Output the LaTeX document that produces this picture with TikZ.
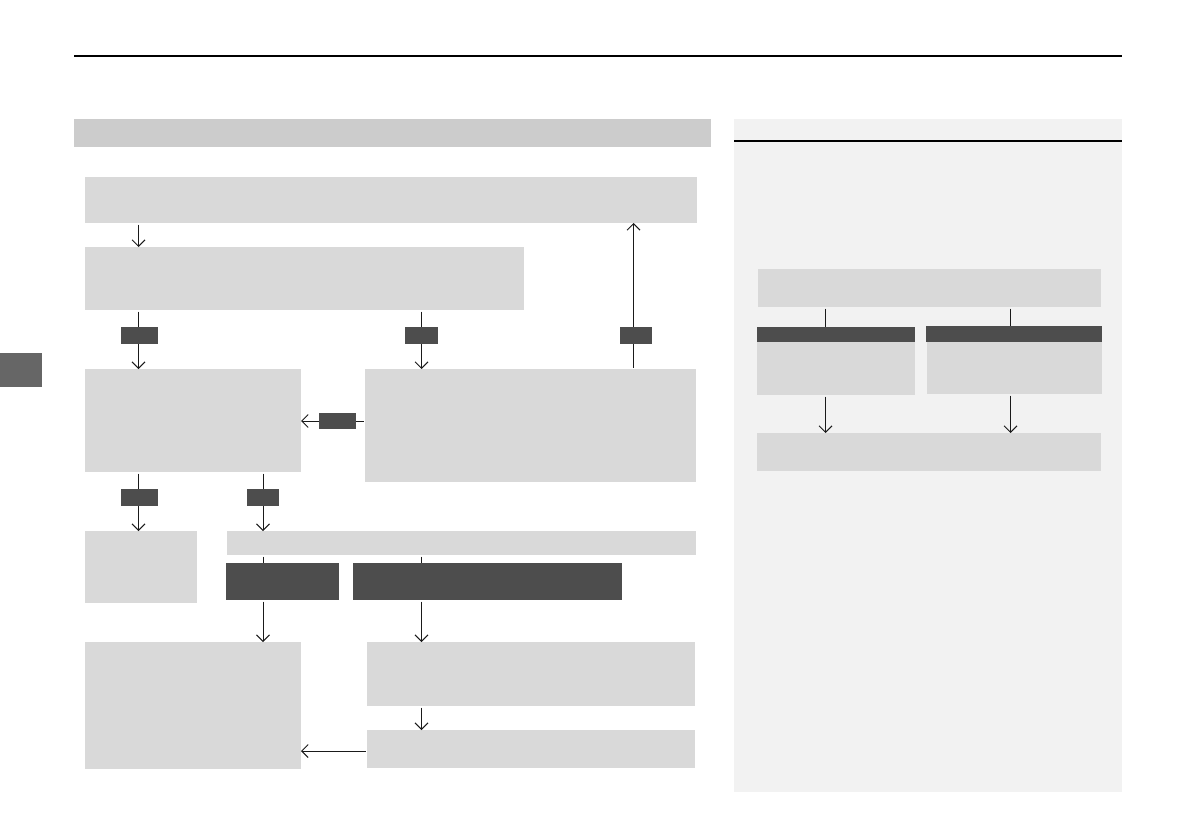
\documentclass[tikz,border=0pt]{standalone}
\usetikzlibrary{arrows.meta}
\definecolor{boxgray}{HTML}{D9D9D9}
\definecolor{headgray}{HTML}{CCCCCC}
\definecolor{darkbar}{HTML}{4D4D4D}
\definecolor{panelgray}{HTML}{F2F2F2}
\definecolor{tabgray}{HTML}{666666}
\definecolor{linecol}{HTML}{1A1A1A}
\begin{document}
\begin{tikzpicture}[x=1pt,y=-1pt,
  box/.style={fill=boxgray, draw=none, inner sep=0pt, outer sep=0pt, anchor=north west},
  darkbox/.style={fill=darkbar, draw=none, inner sep=0pt, outer sep=0pt, anchor=north west},
  lbl/.style={fill=darkbar, draw=none, inner sep=0pt, outer sep=0pt, anchor=center, minimum height=17pt},
  conn/.style={draw=linecol, line width=1pt, shorten <=1.5pt},
  arr/.style={conn, -{Straight Barb[length=6.5pt,width=13pt,line width=1pt]}}
]
\useasboundingbox (0,0) rectangle (1192,840);
\fill[white] (0,0) rectangle (1192,840);

% page furniture
\draw[line width=1.3pt, black] (74,56) -- (1122,56);
\node[fill=tabgray, inner sep=0pt, anchor=north west, minimum width=42pt, minimum height=34pt] (tab) at (0,353) {};
\node[fill=headgray, inner sep=0pt, anchor=north west, minimum width=637pt, minimum height=28pt] (header) at (74,119) {};

% positions of the connectors
\coordinate (cx1) at (138.5,0);
\coordinate (cx2) at (421.5,0);
\coordinate (cx3) at (633.5,0);
\coordinate (cx4) at (263,0);
\coordinate (rx1) at (825.5,0);
\coordinate (rx2) at (1010.5,0);
\coordinate (cy1) at (0,751);
\coordinate (cy2) at (0,421);

% left flowchart boxes
\node[box, minimum width=612pt, minimum height=46pt] (b1) at (85,177) {};
\node[box, minimum width=439pt, minimum height=63pt] (b2) at (85,247) {};
\node[box, minimum width=216pt, minimum height=103pt] (b3) at (85,369) {};
\node[box, minimum width=331pt, minimum height=113pt] (b4) at (365,369) {};
\node[box, minimum width=112pt, minimum height=72pt] (b5) at (85,531) {};
\node[box, minimum width=469pt, minimum height=24pt] (b6) at (227,531) {};
\node[darkbox, minimum width=113pt, minimum height=37pt] (d1) at (226,563) {};
\node[darkbox, minimum width=269pt, minimum height=37pt] (d2) at (353,563) {};
\node[box, minimum width=216pt, minimum height=127pt] (b7) at (85,642) {};
\node[box, minimum width=328pt, minimum height=64pt] (b8) at (367,642) {};
\node[box, minimum width=328pt, minimum height=38pt] (b9) at (367,730) {};

% connectors
\draw[arr] (b1.south -| cx1) -- (b2.north -| cx1);
\draw[arr] (b2.south -| cx1) -- (b3.north -| cx1);
\draw[arr] (b2.south -| cx2) -- (b4.north -| cx2);
\draw[arr] (b4.north -| cx3) -- (b1.south -| cx3);
\draw[arr] (b4.west |- cy2) -- (b3.east |- cy2);
\draw[arr] (b3.south -| cx1) -- (b5.north -| cx1);
\draw[arr] (b3.south -| cx4) -- (b6.north -| cx4);
\draw[conn] (b6.south -| cx4) -- (d1.north -| cx4);
\draw[conn] (b6.south -| cx2) -- (d2.north -| cx2);
\draw[arr] (d1.south -| cx4) -- (b7.north -| cx4);
\draw[arr] (d2.south -| cx2) -- (b8.north -| cx2);
\draw[arr] (b8.south -| cx2) -- (b9.north -| cx2);
\draw[arr] (b9.west |- cy1) -- (b7.east |- cy1);

% connector labels
\node[lbl, minimum width=37pt] (l1) at (139.5,335.5) {};
\node[lbl, minimum width=33pt] (l2) at (421.5,335.5) {};
\node[lbl, minimum width=32pt] (l3) at (636,335.5) {};
\node[lbl, minimum width=37pt, minimum height=16pt] (l4) at (337.5,421) {};
\node[lbl, minimum width=37pt] (l5) at (139.5,497.5) {};
\node[lbl, minimum width=32pt] (l6) at (263,497.5) {};

% right panel
\node[fill=panelgray, inner sep=0pt, anchor=north west, minimum width=388pt, minimum height=673pt] (panel) at (734,119) {};
\draw[line width=1.3pt, black] (panel.north west |- 0,141) -- (panel.north east |- 0,141);
\node[box, minimum width=343pt, minimum height=38pt] (r1) at (758,269) {};
\node[darkbox, minimum width=158pt, minimum height=15pt] (rd1) at (757,327) {};
\node[darkbox, minimum width=176pt, minimum height=16pt] (rd2) at (926,326) {};
\node[box, minimum width=158pt, minimum height=53pt] (r2) at (757,342) {};
\node[box, minimum width=175pt, minimum height=52pt] (r3) at (927,342) {};
\node[box, minimum width=344pt, minimum height=38pt] (r4) at (757,433) {};
\draw[conn] (r1.south -| rx1) -- (rd1.north -| rx1);
\draw[conn] (r1.south -| rx2) -- (rd2.north -| rx2);
\draw[arr] (r2.south -| rx1) -- (r4.north -| rx1);
\draw[arr] (r3.south -| rx2) -- (r4.north -| rx2);
\end{tikzpicture}
\end{document}
